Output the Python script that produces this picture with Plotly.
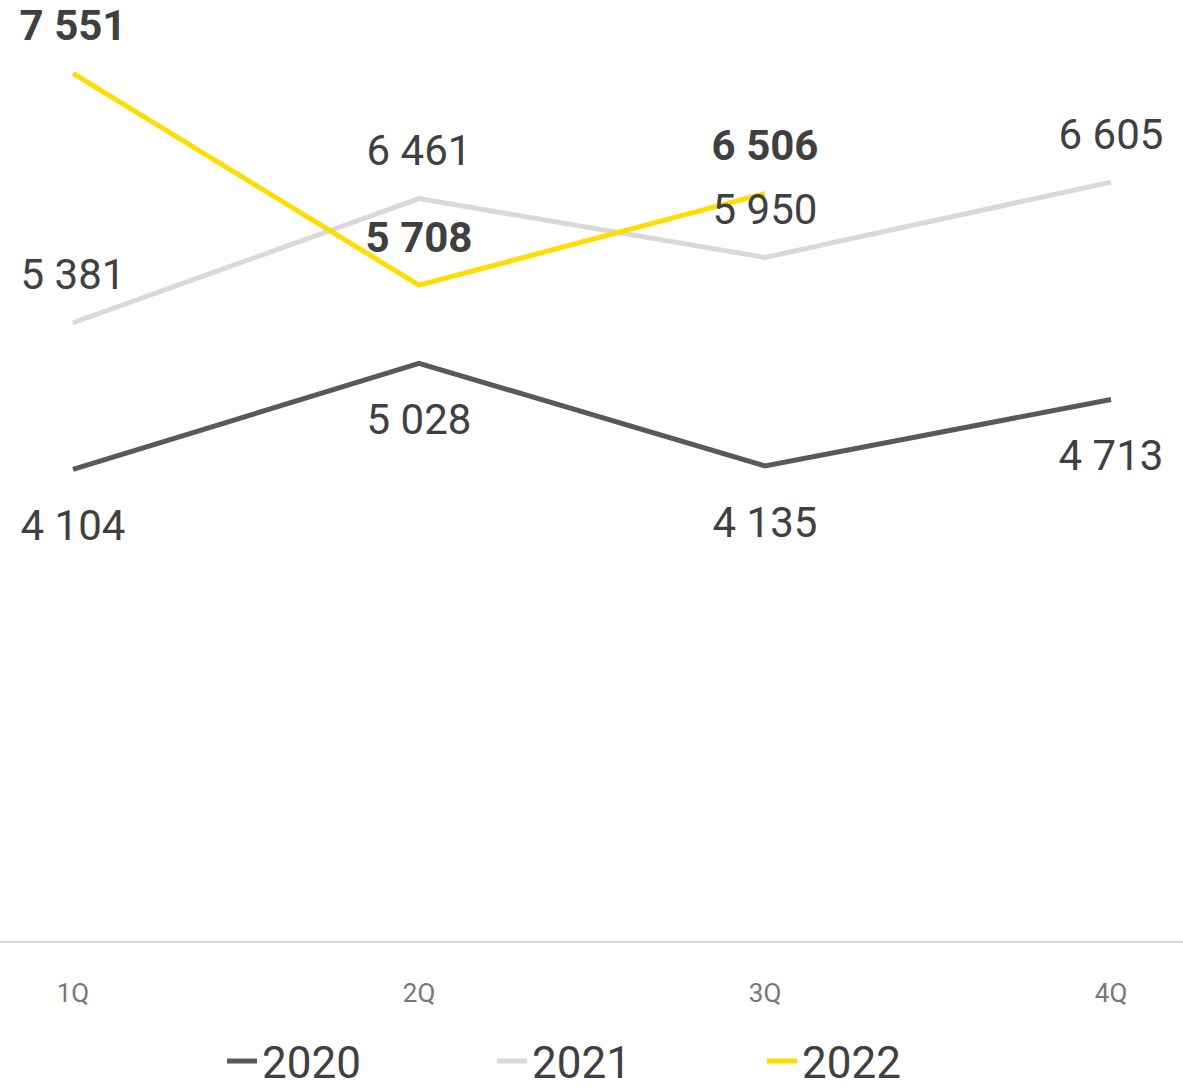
import plotly.graph_objects as go

quarters = ["1Q", "2Q", "3Q", "4Q"]
v2020 = [4104, 5028, 4135, 4713]
v2021 = [5381, 6461, 5950, 6605]
v2022 = [7551, 5708, 6506, None]

C2020 = "#595959"
C2021 = "#d9d9d9"
C2022 = "#ffdd00"
TXT = "#404040"
FONT = "Roboto"


def fmt(v, bold=False):
    if v is None:
        return ""
    s = f"{v:,}".replace(",", " ")
    return f"<b>{s}</b>" if bold else s


fig = go.Figure()

for name, vals, col in [("2020", v2020, C2020), ("2021", v2021, C2021), ("2022", v2022, C2022)]:
    fig.add_trace(go.Scatter(
        x=quarters, y=vals, name=name, mode="lines",
        line=dict(color=col, width=5), hoverinfo="skip",
    ))

# labels
fig.add_trace(go.Scatter(
    x=quarters, y=v2020, mode="markers+text", showlegend=False,
    marker=dict(size=61, opacity=0), text=[fmt(v) for v in v2020],
    textposition="bottom center", textfont=dict(size=42, color=TXT, family=FONT),
    cliponaxis=False, hoverinfo="skip",
))
fig.add_trace(go.Scatter(
    x=quarters, y=v2021, mode="markers+text", showlegend=False,
    marker=dict(size=35, opacity=0), text=[fmt(v) for v in v2021],
    textposition="top center", textfont=dict(size=42, color=TXT, family=FONT),
    cliponaxis=False, hoverinfo="skip",
))
fig.add_trace(go.Scatter(
    x=quarters, y=v2022, mode="markers+text", showlegend=False,
    marker=dict(size=35, opacity=0), text=[fmt(v, True) for v in v2022],
    textposition="top center", textfont=dict(size=42, color=TXT, family=FONT),
    cliponaxis=False, hoverinfo="skip",
))

fig.update_layout(
    width=1183, height=1092,
    margin=dict(l=0, r=0, t=0, b=151, autoexpand=False),
    paper_bgcolor="white", plot_bgcolor="white",
    font=dict(family=FONT, color=TXT),
    xaxis=dict(
        type="category", range=[-0.211, 3.208],
        showline=True, linecolor="#d9d9d9", linewidth=2,
        showgrid=False, zeroline=False, ticks="",
        tickfont=dict(size=26, color="#777777", family=FONT),
        ticklabelstandoff=28,
    ),
    yaxis=dict(range=[0, 8190], visible=False),
    legend=dict(
        orientation="h", x=0.53, xanchor="center", y=-0.128, yanchor="middle",
        font=dict(size=44, color=TXT, family=FONT), entrywidth=225,
    ),
    showlegend=True,
)

fig.write_html("out.html")
